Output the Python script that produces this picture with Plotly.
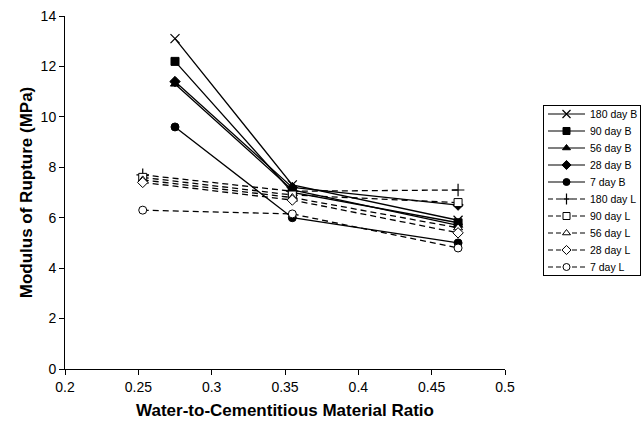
import plotly.graph_objects as go

series_names = ["180 day B", "90 day B", "56 day B", "28 day B", "7 day B",
                "180 day L", "90 day L", "56 day L", "28 day L", "7 day L"]
x_B = [0.275, 0.355, 0.468]
x_L = [0.253, 0.355, 0.468]
y_180B = [13.1, 7.3, 5.9]
y_90B = [12.2, 7.0, 5.8]
y_56B = [11.3, 7.1, 5.7]
y_28B = [11.4, 7.2, 6.5]
y_7B = [9.6, 6.0, 5.0]
y_180L = [7.7, 7.05, 7.1]
y_90L = [7.6, 6.9, 6.6]
y_56L = [7.5, 6.8, 5.6]
y_28L = [7.4, 6.7, 5.4]
y_7L = [6.3, 6.15, 4.8]

x_ticks = [0.2, 0.25, 0.3, 0.35, 0.4, 0.45, 0.5]
y_ticks = [0, 2, 4, 6, 8, 10, 12, 14]

series = [
    (y_180B, x_B, "x-thin", "solid", "black"),
    (y_90B, x_B, "square", "solid", "black"),
    (y_56B, x_B, "triangle-up", "solid", "black"),
    (y_28B, x_B, "diamond", "solid", "black"),
    (y_7B, x_B, "circle", "solid", "black"),
    (y_180L, x_L, "cross-thin", "dash", "black"),
    (y_90L, x_L, "square", "dash", "white"),
    (y_56L, x_L, "triangle-up", "dash", "white"),
    (y_28L, x_L, "diamond", "dash", "white"),
    (y_7L, x_L, "circle", "dash", "white"),
]

W, H = 641, 425
fig = go.Figure()
for i, (name, (ys, xs, sym, dash, fill)) in enumerate(zip(series_names, series)):
    thin = sym.endswith("thin")
    dash_style = "6px,4px" if dash == "dash" else "solid"
    fig.add_trace(go.Scatter(
        x=xs, y=ys, name=name, mode="lines+markers", showlegend=False,
        line=dict(color="black", width=1.3, dash=dash_style),
        marker=dict(symbol=sym, size=9 if thin else 8, color=fill,
                    line=dict(color="black", width=1.2 if thin else 1)),
    ))
    # legend sample: line segment and centred marker, one row per series
    fig.add_trace(go.Scatter(
        x=[0, 1], y=[i, i], mode="lines", showlegend=False, hoverinfo="skip",
        line=dict(color="black", width=1.2, dash="5px,3px" if dash == "dash" else "solid"),
        xaxis="x2", yaxis="y2"))
    fig.add_trace(go.Scatter(
        x=[0.5], y=[i], mode="markers", showlegend=False, hoverinfo="skip",
        marker=dict(symbol=sym, size=8 if thin else 7, color=fill,
                    line=dict(color="black", width=1.2 if thin else 1)),
        xaxis="x2", yaxis="y2"))
    fig.add_annotation(x=1.07, y=i, xref="x2", yref="y2", text=name, showarrow=False,
                       xanchor="left", yanchor="middle", font=dict(size=10.5))

fig.update_layout(
    width=W, height=H,
    margin=dict(l=0, r=0, t=0, b=0, autoexpand=False),
    paper_bgcolor="white", plot_bgcolor="white",
    font=dict(family="Liberation Sans, Arial, sans-serif", color="black", size=14),
    showlegend=False,
    xaxis=dict(domain=[65 / W, 505 / W], range=[0.2, 0.5], tickvals=x_ticks,
               ticktext=[str(v) for v in x_ticks],
               showgrid=False, zeroline=False, showline=True, linecolor="black", linewidth=1,
               ticks="outside", ticklen=5, tickcolor="black",
               title=dict(text="<b>Water-to-Cementitious Material Ratio</b>", font=dict(size=17), standoff=10)),
    yaxis=dict(domain=[56 / H, 409 / H], range=[0, 14], tickvals=y_ticks,
               showgrid=False, zeroline=False, showline=True, linecolor="black", linewidth=1,
               ticks="outside", ticklen=5, tickcolor="black",
               title=dict(text="<b>Modulus of Rupture (MPa)</b>", font=dict(size=17), standoff=3)),
    xaxis2=dict(domain=[544 / W, 640 / W], range=[-0.108, 2.486], anchor="y2",
                showgrid=False, zeroline=False, showticklabels=False, ticks="",
                showline=True, mirror=True, linecolor="black", linewidth=1, fixedrange=True),
    yaxis2=dict(domain=[(H - 275) / H, (H - 106) / H], range=[9.47, -0.47], anchor="x2",
                showgrid=False, zeroline=False, showticklabels=False, ticks="",
                showline=True, mirror=True, linecolor="black", linewidth=1, fixedrange=True),
)

fig.write_html("out.html")
